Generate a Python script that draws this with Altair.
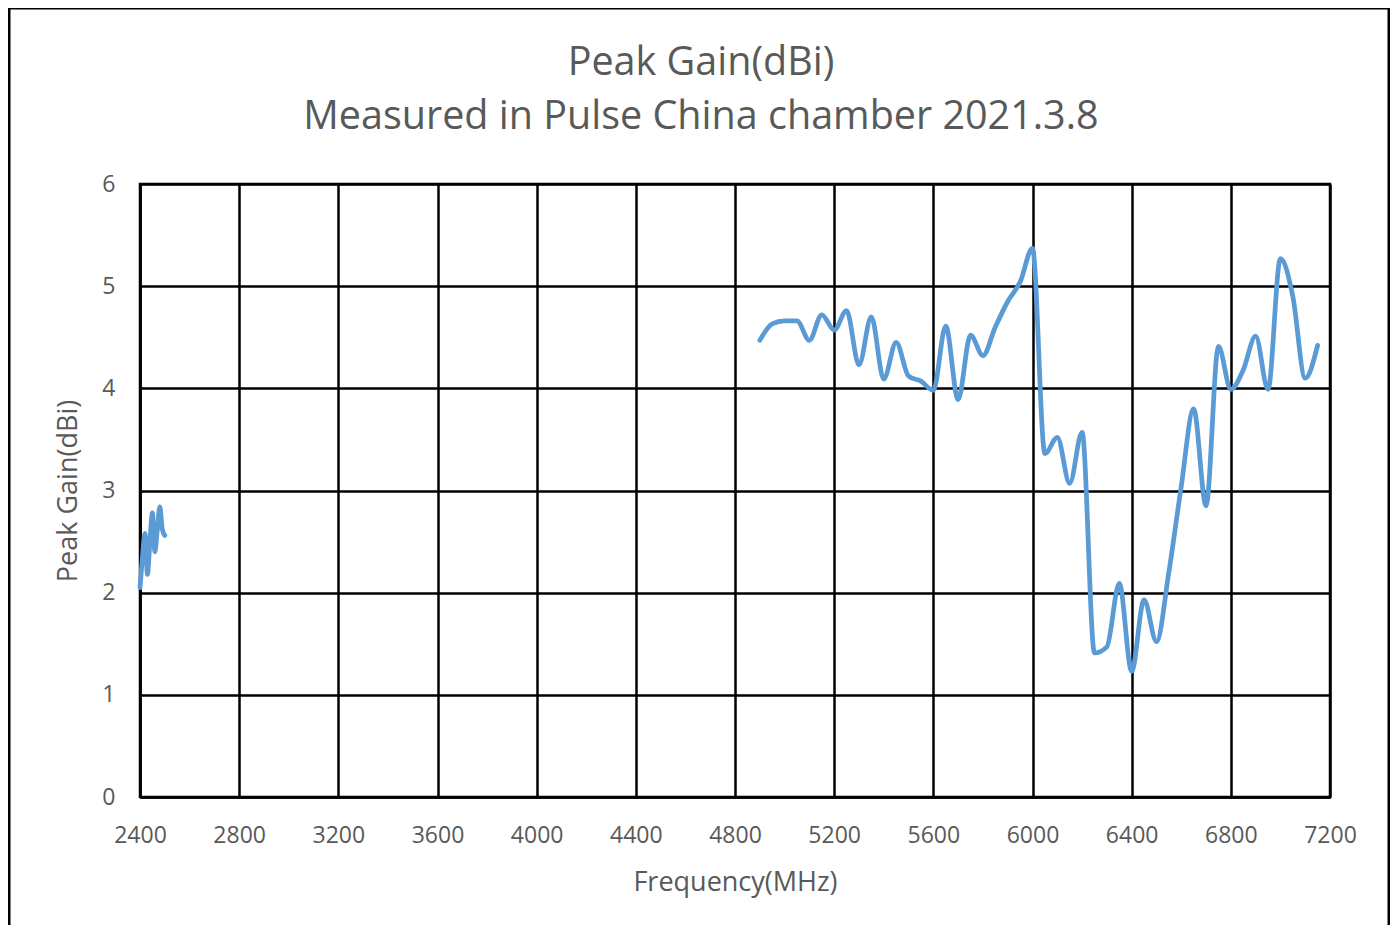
import altair as alt
import pandas as pd

# 2.4 GHz band
freq_24 = [2400, 2410, 2420, 2430, 2440, 2450, 2460, 2470, 2480, 2490, 2500]
gain_24 = [2.05, 2.35, 2.58, 2.18, 2.50, 2.78, 2.40, 2.62, 2.84, 2.62, 2.56]

# 5-7 GHz band
freq_5 = [4900, 4950, 5000, 5050, 5100, 5150, 5200, 5250, 5300, 5350,
          5400, 5450, 5500, 5550, 5600, 5650, 5700, 5750, 5800, 5850,
          5900, 5950, 6000, 6050, 6100, 6150, 6200, 6250, 6300, 6350,
          6400, 6450, 6500, 6550, 6600, 6650, 6700, 6750, 6800, 6850,
          6900, 6950, 7000, 7050, 7100, 7150]
gain_5 = [4.47, 4.63, 4.66, 4.66, 4.47, 4.72, 4.57, 4.76, 4.23, 4.70,
          4.09, 4.45, 4.12, 4.07, 3.98, 4.61, 3.89, 4.52, 4.32, 4.60,
          4.85, 5.04, 5.37, 3.36, 3.52, 3.07, 3.57, 1.41, 1.47, 2.09,
          1.23, 1.93, 1.52, 2.20, 3.04, 3.80, 2.85, 4.41, 3.99, 4.18,
          4.51, 3.99, 5.27, 4.90, 4.10, 4.42]

x_ticks = list(range(2400, 7201, 400))
y_ticks = [0, 1, 2, 3, 4, 5, 6]

title_lines = ["Peak Gain(dBi)", "Measured in Pulse China chamber 2021.3.8"]

df = pd.DataFrame({
    "freq": freq_24 + freq_5,
    "gain": gain_24 + gain_5,
    "band": ["2.4G"] * len(freq_24) + ["5G"] * len(freq_5),
})

W, H = 1190, 613
GREY = "#595959"
FONT = "Open Sans"

line = alt.Chart(df).mark_line(
    color="#5B9BD5", strokeWidth=4.75, interpolate="monotone", strokeCap="round"
).encode(
    x=alt.X("freq:Q", scale=alt.Scale(domain=[2400, 7200], nice=False, zero=False),
            axis=alt.Axis(values=x_ticks, title="Frequency(MHz)", format="d")),
    y=alt.Y("gain:Q", scale=alt.Scale(domain=[0, 6], nice=False),
            axis=alt.Axis(values=y_ticks, title="Peak Gain(dBi)")),
    detail="band:N",
)

one = pd.DataFrame({"k": [0]})
title1 = alt.Chart(one).mark_text(
    text=title_lines[0], font=FONT, fontSize=39.5, color=GREY,
    align="center", baseline="middle"
).encode(x=alt.value(561), y=alt.value(-121))
title2 = alt.Chart(one).mark_text(
    text=title_lines[1], font=FONT, fontSize=39.5, color=GREY,
    align="center", baseline="middle"
).encode(x=alt.value(561), y=alt.value(-67))

frame_left = alt.Chart(one).mark_rule(color="black", strokeWidth=3).encode(
    x=alt.value(-131), y=alt.value(-176), y2=alt.value(746))
frame_right = alt.Chart(one).mark_rule(color="black", strokeWidth=3).encode(
    x=alt.value(1249), y=alt.value(-176), y2=alt.value(746))
frame_top = alt.Chart(one).mark_rule(color="black", strokeWidth=3).encode(
    x=alt.value(-132.5), x2=alt.value(1250.5), y=alt.value(-176))

chart = alt.layer(line, title1, title2, frame_left, frame_right, frame_top).properties(
    width=W, height=H,
    autosize=alt.AutoSizeParams(type="none"),
    padding={"left": 132, "top": 176, "right": 60, "bottom": 128},
).configure(
    background="white"
).configure_view(
    stroke="black", strokeWidth=2.5
).configure_axis(
    grid=True, gridColor="black", gridWidth=2.5, gridOpacity=1,
    domain=True, domainColor="black", domainWidth=2.5,
    ticks=False, labelFlush=False, labelOverlap=False,
    labelFont=FONT, labelFontSize=23, labelColor=GREY,
    titleFont=FONT, titleFontSize=27, titleColor=GREY, titleFontWeight="normal",
).configure_axisX(
    labelPadding=27, titlePadding=22,
).configure_axisY(
    labelPadding=25, titlePadding=19,
)

chart.save("out.html", embed_options={"renderer": "svg", "actions": False})
